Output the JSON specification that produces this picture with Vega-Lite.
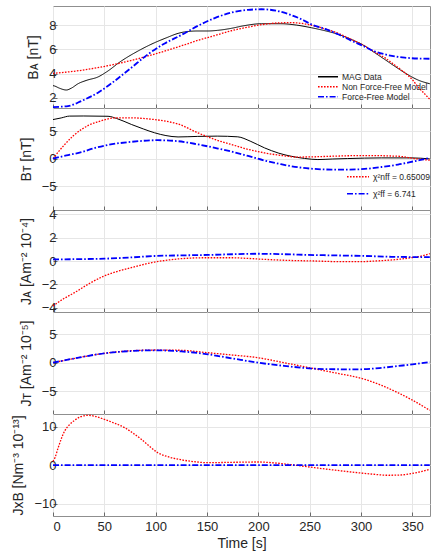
{
  "$schema": "https://vega.github.io/schema/vega-lite/v6.json",
  "autosize": {"type": "pad"},
  "padding": {"left": 11, "top": 5, "right": 0, "bottom": 5},
  "background": "white",
  "bounds": "flush",
  "config": {
    "font": "Liberation Sans",
    "view": {"stroke": "#8f8f8f", "strokeWidth": 1},
    "axis": {
      "domain": false,
      "grid": true,
      "gridColor": "#e6e6e6",
      "gridWidth": 1,
      "tickColor": "#6a6a6a",
      "tickSize": -4,
      "labelFont": "Liberation Sans",
      "labelFontSize": 13,
      "labelColor": "#262626",
      "titleFont": "Liberation Sans",
      "titleFontSize": 14,
      "titleFontWeight": "normal",
      "titleColor": "#262626"
    },
    "axisY": {"labelPadding": 1, "titlePadding": 8},
    "axisX": {"labelPadding": 8, "titlePadding": 3},
    "legend": {
      "labelFont": "Liberation Sans",
      "labelFontSize": 8.5,
      "labelColor": "#262626",
      "symbolStrokeWidth": 1.4,
      "symbolSize": 400,
      "labelOffset": 3,
      "title": null
    }
  },
  "spacing": 0,
  "data": {"values": [
    {"p":"BA","s":"MAG Data","t":0,"v":3.0},{"p":"BA","s":"MAG Data","t":1.6,"v":2.97},{"p":"BA","s":"MAG Data","t":6,"v":2.8},{"p":"BA","s":"MAG Data","t":13,"v":2.64},{"p":"BA","s":"MAG Data","t":18,"v":2.8},{"p":"BA","s":"MAG Data","t":24.4,"v":3.16},{"p":"BA","s":"MAG Data","t":33,"v":3.45},{"p":"BA","s":"MAG Data","t":43.8,"v":3.72},{"p":"BA","s":"MAG Data","t":52,"v":4.13},{"p":"BA","s":"MAG Data","t":66.5,"v":5.04},{"p":"BA","s":"MAG Data","t":82.8,"v":5.87},{"p":"BA","s":"MAG Data","t":99,"v":6.56},{"p":"BA","s":"MAG Data","t":110,"v":6.95},{"p":"BA","s":"MAG Data","t":121.8,"v":7.33},{"p":"BA","s":"MAG Data","t":128,"v":7.45},{"p":"BA","s":"MAG Data","t":141,"v":7.53},{"p":"BA","s":"MAG Data","t":151,"v":7.53},{"p":"BA","s":"MAG Data","t":160,"v":7.58},{"p":"BA","s":"MAG Data","t":173.7,"v":7.75},{"p":"BA","s":"MAG Data","t":185,"v":7.95},{"p":"BA","s":"MAG Data","t":203,"v":8.13},{"p":"BA","s":"MAG Data","t":222,"v":8.13},{"p":"BA","s":"MAG Data","t":237,"v":8.02},{"p":"BA","s":"MAG Data","t":251.6,"v":7.8},{"p":"BA","s":"MAG Data","t":265,"v":7.55},{"p":"BA","s":"MAG Data","t":277.6,"v":7.26},{"p":"BA","s":"MAG Data","t":290,"v":6.85},{"p":"BA","s":"MAG Data","t":303.6,"v":6.29},{"p":"BA","s":"MAG Data","t":313,"v":5.75},{"p":"BA","s":"MAG Data","t":323,"v":5.18},{"p":"BA","s":"MAG Data","t":333,"v":4.6},{"p":"BA","s":"MAG Data","t":342.6,"v":4.07},{"p":"BA","s":"MAG Data","t":350,"v":3.7},{"p":"BA","s":"MAG Data","t":355.5,"v":3.47},{"p":"BA","s":"MAG Data","t":367,"v":3.16},

    {"p":"BA","s":"Non Force-Free Model","t":0,"v":4.02},{"p":"BA","s":"Non Force-Free Model","t":27.6,"v":4.27},{"p":"BA","s":"Non Force-Free Model","t":60,"v":4.77},{"p":"BA","s":"Non Force-Free Model","t":92.5,"v":5.46},{"p":"BA","s":"Non Force-Free Model","t":125,"v":6.3},{"p":"BA","s":"Non Force-Free Model","t":141,"v":6.75},{"p":"BA","s":"Non Force-Free Model","t":157.5,"v":7.15},{"p":"BA","s":"Non Force-Free Model","t":173.7,"v":7.55},{"p":"BA","s":"Non Force-Free Model","t":190,"v":7.85},{"p":"BA","s":"Non Force-Free Model","t":203,"v":8.05},{"p":"BA","s":"Non Force-Free Model","t":220,"v":8.2},{"p":"BA","s":"Non Force-Free Model","t":232,"v":8.22},{"p":"BA","s":"Non Force-Free Model","t":245,"v":8.12},{"p":"BA","s":"Non Force-Free Model","t":255,"v":7.94},{"p":"BA","s":"Non Force-Free Model","t":265,"v":7.7},{"p":"BA","s":"Non Force-Free Model","t":277.6,"v":7.34},{"p":"BA","s":"Non Force-Free Model","t":290,"v":6.85},{"p":"BA","s":"Non Force-Free Model","t":303.6,"v":6.29},{"p":"BA","s":"Non Force-Free Model","t":313,"v":5.8},{"p":"BA","s":"Non Force-Free Model","t":323,"v":5.32},{"p":"BA","s":"Non Force-Free Model","t":333,"v":4.7},{"p":"BA","s":"Non Force-Free Model","t":342.6,"v":4.07},{"p":"BA","s":"Non Force-Free Model","t":350,"v":3.5},{"p":"BA","s":"Non Force-Free Model","t":355.5,"v":2.9},{"p":"BA","s":"Non Force-Free Model","t":360,"v":2.5},{"p":"BA","s":"Non Force-Free Model","t":367,"v":1.87},

    {"p":"BA","s":"Force-Free Model","t":0,"v":1.23},{"p":"BA","s":"Force-Free Model","t":14.6,"v":1.31},{"p":"BA","s":"Force-Free Model","t":27.6,"v":1.73},{"p":"BA","s":"Force-Free Model","t":43.8,"v":2.42},{"p":"BA","s":"Force-Free Model","t":60,"v":3.39},{"p":"BA","s":"Force-Free Model","t":76.3,"v":4.49},{"p":"BA","s":"Force-Free Model","t":92.5,"v":5.6},{"p":"BA","s":"Force-Free Model","t":108.8,"v":6.5},{"p":"BA","s":"Force-Free Model","t":125,"v":7.2},{"p":"BA","s":"Force-Free Model","t":141,"v":7.95},{"p":"BA","s":"Force-Free Model","t":157.5,"v":8.6},{"p":"BA","s":"Force-Free Model","t":173.7,"v":9.05},{"p":"BA","s":"Force-Free Model","t":190,"v":9.28},{"p":"BA","s":"Force-Free Model","t":203,"v":9.33},{"p":"BA","s":"Force-Free Model","t":218,"v":9.2},{"p":"BA","s":"Force-Free Model","t":232,"v":8.85},{"p":"BA","s":"Force-Free Model","t":242,"v":8.5},{"p":"BA","s":"Force-Free Model","t":251.6,"v":8.08},{"p":"BA","s":"Force-Free Model","t":265,"v":7.7},{"p":"BA","s":"Force-Free Model","t":277.6,"v":7.26},{"p":"BA","s":"Force-Free Model","t":290,"v":6.75},{"p":"BA","s":"Force-Free Model","t":303.6,"v":6.23},{"p":"BA","s":"Force-Free Model","t":313,"v":5.85},{"p":"BA","s":"Force-Free Model","t":323,"v":5.6},{"p":"BA","s":"Force-Free Model","t":333,"v":5.42},{"p":"BA","s":"Force-Free Model","t":342.6,"v":5.32},{"p":"BA","s":"Force-Free Model","t":355,"v":5.25},{"p":"BA","s":"Force-Free Model","t":367,"v":5.23},

    {"p":"BT","s":"MAG Data","t":0,"v":7.1},{"p":"BT","s":"MAG Data","t":8,"v":7.4},{"p":"BT","s":"MAG Data","t":16,"v":7.73},{"p":"BT","s":"MAG Data","t":30,"v":7.75},{"p":"BT","s":"MAG Data","t":53.6,"v":7.7},{"p":"BT","s":"MAG Data","t":62,"v":7.3},{"p":"BT","s":"MAG Data","t":76.3,"v":6.22},{"p":"BT","s":"MAG Data","t":88,"v":5.4},{"p":"BT","s":"MAG Data","t":99,"v":4.7},{"p":"BT","s":"MAG Data","t":110,"v":4.2},{"p":"BT","s":"MAG Data","t":121.8,"v":3.95},{"p":"BT","s":"MAG Data","t":141,"v":4.05},{"p":"BT","s":"MAG Data","t":160,"v":4.1},{"p":"BT","s":"MAG Data","t":180,"v":3.97},{"p":"BT","s":"MAG Data","t":192,"v":3.2},{"p":"BT","s":"MAG Data","t":206,"v":1.97},{"p":"BT","s":"MAG Data","t":220,"v":1.0},{"p":"BT","s":"MAG Data","t":232,"v":0.45},{"p":"BT","s":"MAG Data","t":245,"v":0.05},{"p":"BT","s":"MAG Data","t":258,"v":-0.15},{"p":"BT","s":"MAG Data","t":272,"v":-0.05},{"p":"BT","s":"MAG Data","t":287,"v":0.03},{"p":"BT","s":"MAG Data","t":320,"v":0.15},{"p":"BT","s":"MAG Data","t":349,"v":0.15},{"p":"BT","s":"MAG Data","t":367,"v":-0.03},

    {"p":"BT","s":"Non Force-Free Model","t":0,"v":0},{"p":"BT","s":"Non Force-Free Model","t":5,"v":1.2},{"p":"BT","s":"Non Force-Free Model","t":11.4,"v":2.58},{"p":"BT","s":"Non Force-Free Model","t":20,"v":4.2},{"p":"BT","s":"Non Force-Free Model","t":27.6,"v":5.3},{"p":"BT","s":"Non Force-Free Model","t":35,"v":6.1},{"p":"BT","s":"Non Force-Free Model","t":43.8,"v":6.7},{"p":"BT","s":"Non Force-Free Model","t":52,"v":7.15},{"p":"BT","s":"Non Force-Free Model","t":60,"v":7.4},{"p":"BT","s":"Non Force-Free Model","t":76.3,"v":7.42},{"p":"BT","s":"Non Force-Free Model","t":88,"v":7.3},{"p":"BT","s":"Non Force-Free Model","t":99,"v":7.1},{"p":"BT","s":"Non Force-Free Model","t":110,"v":6.8},{"p":"BT","s":"Non Force-Free Model","t":121.8,"v":6.3},{"p":"BT","s":"Non Force-Free Model","t":141,"v":4.7},{"p":"BT","s":"Non Force-Free Model","t":160.7,"v":3.3},{"p":"BT","s":"Non Force-Free Model","t":173.7,"v":2.58},{"p":"BT","s":"Non Force-Free Model","t":190,"v":1.7},{"p":"BT","s":"Non Force-Free Model","t":206,"v":1.06},{"p":"BT","s":"Non Force-Free Model","t":222,"v":0.6},{"p":"BT","s":"Non Force-Free Model","t":238.6,"v":0.3},{"p":"BT","s":"Non Force-Free Model","t":255,"v":0.35},{"p":"BT","s":"Non Force-Free Model","t":271,"v":0.45},{"p":"BT","s":"Non Force-Free Model","t":303.6,"v":0.58},{"p":"BT","s":"Non Force-Free Model","t":336,"v":0.45},{"p":"BT","s":"Non Force-Free Model","t":352,"v":0.03},{"p":"BT","s":"Non Force-Free Model","t":367,"v":-0.27},

    {"p":"BT","s":"Force-Free Model","t":0,"v":0},{"p":"BT","s":"Force-Free Model","t":13,"v":0.6},{"p":"BT","s":"Force-Free Model","t":27.6,"v":1.18},{"p":"BT","s":"Force-Free Model","t":40,"v":1.9},{"p":"BT","s":"Force-Free Model","t":53.6,"v":2.5},{"p":"BT","s":"Force-Free Model","t":76.3,"v":3.06},{"p":"BT","s":"Force-Free Model","t":102,"v":3.36},{"p":"BT","s":"Force-Free Model","t":121.8,"v":3.18},{"p":"BT","s":"Force-Free Model","t":141,"v":2.6},{"p":"BT","s":"Force-Free Model","t":160.7,"v":1.85},{"p":"BT","s":"Force-Free Model","t":173.7,"v":1.3},{"p":"BT","s":"Force-Free Model","t":190,"v":0.5},{"p":"BT","s":"Force-Free Model","t":206,"v":-0.33},{"p":"BT","s":"Force-Free Model","t":222,"v":-1.0},{"p":"BT","s":"Force-Free Model","t":238.6,"v":-1.55},{"p":"BT","s":"Force-Free Model","t":255,"v":-1.85},{"p":"BT","s":"Force-Free Model","t":271,"v":-1.97},{"p":"BT","s":"Force-Free Model","t":287,"v":-1.97},{"p":"BT","s":"Force-Free Model","t":303.6,"v":-1.85},{"p":"BT","s":"Force-Free Model","t":320,"v":-1.5},{"p":"BT","s":"Force-Free Model","t":336,"v":-1.06},{"p":"BT","s":"Force-Free Model","t":352,"v":-0.45},{"p":"BT","s":"Force-Free Model","t":367,"v":0.15},

    {"p":"JA","s":"Non Force-Free Model","t":0,"v":-3.85},{"p":"JA","s":"Non Force-Free Model","t":10,"v":-3.25},{"p":"JA","s":"Non Force-Free Model","t":21,"v":-2.71},{"p":"JA","s":"Non Force-Free Model","t":35,"v":-1.95},{"p":"JA","s":"Non Force-Free Model","t":50,"v":-1.28},{"p":"JA","s":"Non Force-Free Model","t":63,"v":-0.88},{"p":"JA","s":"Non Force-Free Model","t":76.3,"v":-0.57},{"p":"JA","s":"Non Force-Free Model","t":88,"v":-0.3},{"p":"JA","s":"Non Force-Free Model","t":99,"v":-0.09},{"p":"JA","s":"Non Force-Free Model","t":112,"v":0.08},{"p":"JA","s":"Non Force-Free Model","t":125,"v":0.2},{"p":"JA","s":"Non Force-Free Model","t":150,"v":0.28},{"p":"JA","s":"Non Force-Free Model","t":173.7,"v":0.28},{"p":"JA","s":"Non Force-Free Model","t":190,"v":0.22},{"p":"JA","s":"Non Force-Free Model","t":206,"v":0.14},{"p":"JA","s":"Non Force-Free Model","t":230,"v":0.05},{"p":"JA","s":"Non Force-Free Model","t":255,"v":0},{"p":"JA","s":"Non Force-Free Model","t":275,"v":-0.05},{"p":"JA","s":"Non Force-Free Model","t":297,"v":-0.06},{"p":"JA","s":"Non Force-Free Model","t":318,"v":0.02},{"p":"JA","s":"Non Force-Free Model","t":336,"v":0.14},{"p":"JA","s":"Non Force-Free Model","t":349,"v":0.28},{"p":"JA","s":"Non Force-Free Model","t":360,"v":0.45},{"p":"JA","s":"Non Force-Free Model","t":367,"v":0.63},

    {"p":"JA","s":"Force-Free Model","t":0,"v":0.14},{"p":"JA","s":"Force-Free Model","t":50,"v":0.2},{"p":"JA","s":"Force-Free Model","t":75,"v":0.3},{"p":"JA","s":"Force-Free Model","t":99,"v":0.43},{"p":"JA","s":"Force-Free Model","t":125,"v":0.48},{"p":"JA","s":"Force-Free Model","t":151,"v":0.52},{"p":"JA","s":"Force-Free Model","t":175,"v":0.58},{"p":"JA","s":"Force-Free Model","t":200,"v":0.62},{"p":"JA","s":"Force-Free Model","t":225,"v":0.58},{"p":"JA","s":"Force-Free Model","t":255,"v":0.51},{"p":"JA","s":"Force-Free Model","t":280,"v":0.47},{"p":"JA","s":"Force-Free Model","t":303.6,"v":0.43},{"p":"JA","s":"Force-Free Model","t":330,"v":0.36},{"p":"JA","s":"Force-Free Model","t":349,"v":0.34},{"p":"JA","s":"Force-Free Model","t":367,"v":0.34},

    {"p":"JT","s":"Non Force-Free Model","t":0,"v":0},{"p":"JT","s":"Non Force-Free Model","t":25,"v":0.9},{"p":"JT","s":"Non Force-Free Model","t":50,"v":1.66},{"p":"JT","s":"Non Force-Free Model","t":75,"v":2.1},{"p":"JT","s":"Non Force-Free Model","t":99,"v":2.24},{"p":"JT","s":"Non Force-Free Model","t":125,"v":2.19},{"p":"JT","s":"Non Force-Free Model","t":151,"v":1.76},{"p":"JT","s":"Non Force-Free Model","t":175,"v":1.35},{"p":"JT","s":"Non Force-Free Model","t":200,"v":0.88},{"p":"JT","s":"Non Force-Free Model","t":225,"v":0},{"p":"JT","s":"Non Force-Free Model","t":251.6,"v":-0.95},{"p":"JT","s":"Non Force-Free Model","t":275,"v":-1.8},{"p":"JT","s":"Non Force-Free Model","t":303.6,"v":-2.93},{"p":"JT","s":"Non Force-Free Model","t":320,"v":-4.0},{"p":"JT","s":"Non Force-Free Model","t":336,"v":-5.3},{"p":"JT","s":"Non Force-Free Model","t":350,"v":-6.6},{"p":"JT","s":"Non Force-Free Model","t":367,"v":-8.4},

    {"p":"JT","s":"Force-Free Model","t":0,"v":0},{"p":"JT","s":"Force-Free Model","t":25,"v":0.9},{"p":"JT","s":"Force-Free Model","t":50,"v":1.66},{"p":"JT","s":"Force-Free Model","t":75,"v":2.05},{"p":"JT","s":"Force-Free Model","t":99,"v":2.19},{"p":"JT","s":"Force-Free Model","t":125,"v":2.0},{"p":"JT","s":"Force-Free Model","t":151,"v":1.48},{"p":"JT","s":"Force-Free Model","t":175,"v":0.75},{"p":"JT","s":"Force-Free Model","t":200,"v":0},{"p":"JT","s":"Force-Free Model","t":225,"v":-0.55},{"p":"JT","s":"Force-Free Model","t":255,"v":-1.06},{"p":"JT","s":"Force-Free Model","t":275,"v":-1.15},{"p":"JT","s":"Force-Free Model","t":297,"v":-1.17},{"p":"JT","s":"Force-Free Model","t":320,"v":-0.9},{"p":"JT","s":"Force-Free Model","t":336,"v":-0.58},{"p":"JT","s":"Force-Free Model","t":352,"v":-0.25},{"p":"JT","s":"Force-Free Model","t":367,"v":0.12},

    {"p":"JB","s":"Non Force-Free Model","t":0,"v":1.0},{"p":"JB","s":"Non Force-Free Model","t":2,"v":2.0},{"p":"JB","s":"Non Force-Free Model","t":5,"v":4.5},{"p":"JB","s":"Non Force-Free Model","t":11.4,"v":8.9},{"p":"JB","s":"Non Force-Free Model","t":16,"v":10.5},{"p":"JB","s":"Non Force-Free Model","t":21,"v":11.66},{"p":"JB","s":"Non Force-Free Model","t":27,"v":12.6},{"p":"JB","s":"Non Force-Free Model","t":34,"v":12.96},{"p":"JB","s":"Non Force-Free Model","t":41,"v":12.7},{"p":"JB","s":"Non Force-Free Model","t":50,"v":11.9},{"p":"JB","s":"Non Force-Free Model","t":60,"v":10.9},{"p":"JB","s":"Non Force-Free Model","t":70,"v":9.74},{"p":"JB","s":"Non Force-Free Model","t":78,"v":8.3},{"p":"JB","s":"Non Force-Free Model","t":86,"v":6.73},{"p":"JB","s":"Non Force-Free Model","t":94,"v":4.9},{"p":"JB","s":"Non Force-Free Model","t":102,"v":3.25},{"p":"JB","s":"Non Force-Free Model","t":112,"v":2.2},{"p":"JB","s":"Non Force-Free Model","t":125,"v":1.4},{"p":"JB","s":"Non Force-Free Model","t":138,"v":0.9},{"p":"JB","s":"Non Force-Free Model","t":151,"v":0.65},{"p":"JB","s":"Non Force-Free Model","t":175,"v":0.75},{"p":"JB","s":"Non Force-Free Model","t":200,"v":0.83},{"p":"JB","s":"Non Force-Free Model","t":215,"v":0.6},{"p":"JB","s":"Non Force-Free Model","t":229,"v":0.23},{"p":"JB","s":"Non Force-Free Model","t":242,"v":-0.2},{"p":"JB","s":"Non Force-Free Model","t":255,"v":-0.65},{"p":"JB","s":"Non Force-Free Model","t":275,"v":-1.3},{"p":"JB","s":"Non Force-Free Model","t":297,"v":-1.95},{"p":"JB","s":"Non Force-Free Model","t":312,"v":-2.35},{"p":"JB","s":"Non Force-Free Model","t":326,"v":-2.62},{"p":"JB","s":"Non Force-Free Model","t":338,"v":-2.55},{"p":"JB","s":"Non Force-Free Model","t":349,"v":-2.2},{"p":"JB","s":"Non Force-Free Model","t":358,"v":-1.7},{"p":"JB","s":"Non Force-Free Model","t":367,"v":-1.07},

    {"p":"JB","s":"Force-Free Model","t":0,"v":0},{"p":"JB","s":"Force-Free Model","t":100,"v":0},{"p":"JB","s":"Force-Free Model","t":200,"v":0},{"p":"JB","s":"Force-Free Model","t":300,"v":0},{"p":"JB","s":"Force-Free Model","t":367,"v":0}
  ]},
  "resolve": {
    "scale": {"color": "independent", "strokeDash": "independent", "y": "independent"},
    "legend": {"color": "independent", "strokeDash": "independent"}
  },
  "vconcat": [
    {
      "width": 377, "height": 102,
      "transform": [{"filter": "datum.p === 'BA'"}],
      "encoding": {
        "x": {"field": "t", "type": "quantitative", "scale": {"domain": [0, 367.2], "nice": false, "zero": false},
              "axis": {"values": [0,50,100,150,200,250,300,350], "labels": false, "title": null}},
        "y": {"field": "v", "type": "quantitative", "scale": {"domain": [1.15, 9.6], "nice": false, "zero": false},
              "axis": {"values": [2,4,6,8], "title": "Bᴀ [nT]"}}
      },
      "layer": [
        {
          "encoding": {
            "color": {"field": "s", "type": "nominal",
                      "scale": {"domain": ["MAG Data", "Non Force-Free Model", "Force-Free Model"], "range": ["#000000", "#ff0000", "#0000ff"]},
                      "legend": {"orient": "none", "legendX": 264, "legendY": 65.7, "rowPadding": 0, "clipHeight": 10, "symbolSize": 400}},
            "strokeDash": {"field": "s", "type": "nominal",
                      "scale": {"domain": ["MAG Data", "Non Force-Free Model", "Force-Free Model"], "range": [[1,0],[1.6,1.4],[6,2,1.6,2]]},
                      "legend": {"orient": "none", "legendX": 264, "legendY": 65.7, "rowPadding": 0, "clipHeight": 10, "symbolSize": 400}}
          },
          "layer": [
            {"transform": [{"filter": "datum.s === 'MAG Data'"}], "mark": {"type": "line", "strokeWidth": 1, "interpolate": "monotone"}},
            {"transform": [{"filter": "datum.s === 'Non Force-Free Model'"}], "mark": {"type": "line", "strokeWidth": 1.3, "interpolate": "monotone"}},
            {"transform": [{"filter": "datum.s === 'Force-Free Model'"}], "mark": {"type": "line", "strokeWidth": 1.8, "interpolate": "monotone"}}
          ]
        }
      ]
    },
    {
      "width": 377, "height": 102,
      "transform": [{"filter": "datum.p === 'BT'"}],
      "encoding": {
        "x": {"field": "t", "type": "quantitative", "scale": {"domain": [0, 367.2], "nice": false, "zero": false},
              "axis": {"values": [0,50,100,150,200,250,300,350], "labels": false, "title": null}},
        "y": {"field": "v", "type": "quantitative", "scale": {"domain": [-9.3, 9.2], "nice": false, "zero": false},
              "axis": {"values": [-5,0,5], "title": "Bᴛ [nT]"}}
      },
      "layer": [
        {"transform": [{"filter": "datum.s === 'MAG Data'"}], "mark": {"type": "line", "strokeWidth": 1, "color": "#000000", "interpolate": "monotone"}},
        {
          "transform": [{"filter": "datum.s !== 'MAG Data'"}],
          "encoding": {
            "color": {"field": "s", "type": "nominal",
                      "scale": {"domain": ["Non Force-Free Model", "Force-Free Model"], "range": ["#ff0000", "#0000ff"]},
                      "legend": {"orient": "none", "legendX": 293, "legendY": 56.7, "rowPadding": -5.4, "symbolSize": 484,
                                 "labelExpr": "datum.label === 'Non Force-Free Model' ? 'χ²nff = 0.65009' : 'χ²ff = 6.741'"}},
            "strokeDash": {"field": "s", "type": "nominal",
                      "scale": {"domain": ["Non Force-Free Model", "Force-Free Model"], "range": [[1.6,1.4],[6,2,1.6,2]]},
                      "legend": {"orient": "none", "legendX": 293, "legendY": 56.7, "rowPadding": -5.4, "symbolSize": 484,
                                 "labelExpr": "datum.label === 'Non Force-Free Model' ? 'χ²nff = 0.65009' : 'χ²ff = 6.741'"}}
          },
          "layer": [
            {"transform": [{"filter": "datum.s === 'Non Force-Free Model'"}], "mark": {"type": "line", "strokeWidth": 1.3, "interpolate": "monotone"}},
            {"transform": [{"filter": "datum.s === 'Force-Free Model'"}], "mark": {"type": "line", "strokeWidth": 1.8, "interpolate": "monotone"}}
          ]
        }
      ]
    },
    {
      "width": 377, "height": 102,
      "transform": [{"filter": "datum.p === 'JA'"}],
      "encoding": {
        "x": {"field": "t", "type": "quantitative", "scale": {"domain": [0, 367.2], "nice": false, "zero": false},
              "axis": {"values": [0,50,100,150,200,250,300,350], "labels": false, "title": null}},
        "y": {"field": "v", "type": "quantitative", "scale": {"domain": [-4.37, 4.37], "nice": false, "zero": false},
              "axis": {"values": [-4,-2,0,2,4], "title": "Jᴀ [Am⁻² 10⁻⁴]"}}
      },
      "layer": [
        {"transform": [{"filter": "datum.s === 'Non Force-Free Model'"}], "mark": {"type": "line", "strokeWidth": 1.3, "color": "#ff0000", "strokeDash": [1.6,1.4], "interpolate": "monotone"}},
        {"transform": [{"filter": "datum.s === 'Force-Free Model'"}], "mark": {"type": "line", "strokeWidth": 1.8, "color": "#0000ff", "strokeDash": [6,2,1.6,2], "interpolate": "monotone"}}
      ]
    },
    {
      "width": 377, "height": 102,
      "transform": [{"filter": "datum.p === 'JT'"}],
      "encoding": {
        "x": {"field": "t", "type": "quantitative", "scale": {"domain": [0, 367.2], "nice": false, "zero": false},
              "axis": {"values": [0,50,100,150,200,250,300,350], "labels": false, "title": null}},
        "y": {"field": "v", "type": "quantitative", "scale": {"domain": [-9.05, 8.95], "nice": false, "zero": false},
              "axis": {"values": [-5,0,5], "title": "Jᴛ [Am⁻² 10⁻⁵]"}}
      },
      "layer": [
        {"transform": [{"filter": "datum.s === 'Non Force-Free Model'"}], "mark": {"type": "line", "strokeWidth": 1.3, "color": "#ff0000", "strokeDash": [1.6,1.4], "interpolate": "monotone"}},
        {"transform": [{"filter": "datum.s === 'Force-Free Model'"}], "mark": {"type": "line", "strokeWidth": 1.8, "color": "#0000ff", "strokeDash": [6,2,1.6,2], "interpolate": "monotone"}}
      ]
    },
    {
      "width": 377, "height": 102,
      "transform": [{"filter": "datum.p === 'JB'"}],
      "encoding": {
        "x": {"field": "t", "type": "quantitative", "scale": {"domain": [0, 367.2], "nice": false, "zero": false},
              "axis": {"values": [0,50,100,150,200,250,300,350], "title": "Time [s]"}},
        "y": {"field": "v", "type": "quantitative", "scale": {"domain": [-13.2, 13.3], "nice": false, "zero": false},
              "axis": {"values": [-10,0,10], "title": "JxB [Nm⁻³ 10⁻¹³]"}}
      },
      "layer": [
        {"transform": [{"filter": "datum.s === 'Non Force-Free Model'"}], "mark": {"type": "line", "strokeWidth": 1.3, "color": "#ff0000", "strokeDash": [1.6,1.4], "interpolate": "monotone"}},
        {"transform": [{"filter": "datum.s === 'Force-Free Model'"}], "mark": {"type": "line", "strokeWidth": 1.8, "color": "#0000ff", "strokeDash": [6,2,1.6,2], "interpolate": "monotone"}}
      ]
    }
  ]
}
